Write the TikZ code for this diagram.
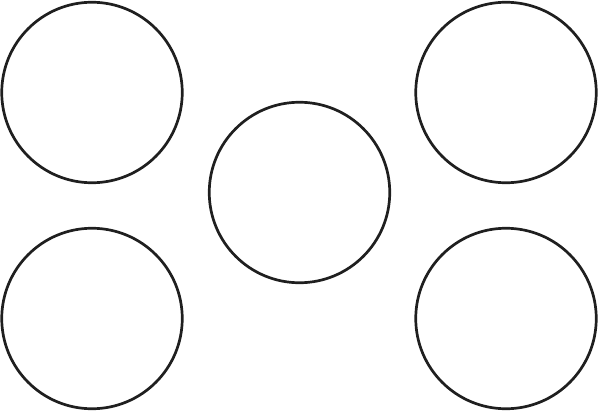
\documentclass[tikz,border=0pt]{standalone}
\begin{document}
\begin{tikzpicture}[x=1pt,y=-1pt,
  ring/.style={circle,draw=black!88,line width=2.7pt,inner sep=0pt,minimum size=180.5pt}]
\useasboundingbox (0,0) rectangle (600,412);
\node[ring] (tl) at (92,92.5) {};
\node[ring] (tr) at (506,92.5) {};
\node[ring] (m) at (299.5,192.5) {};
\node[ring] (bl) at (92,318.5) {};
\node[ring] (br) at (506,318.5) {};
\end{tikzpicture}
\end{document}
